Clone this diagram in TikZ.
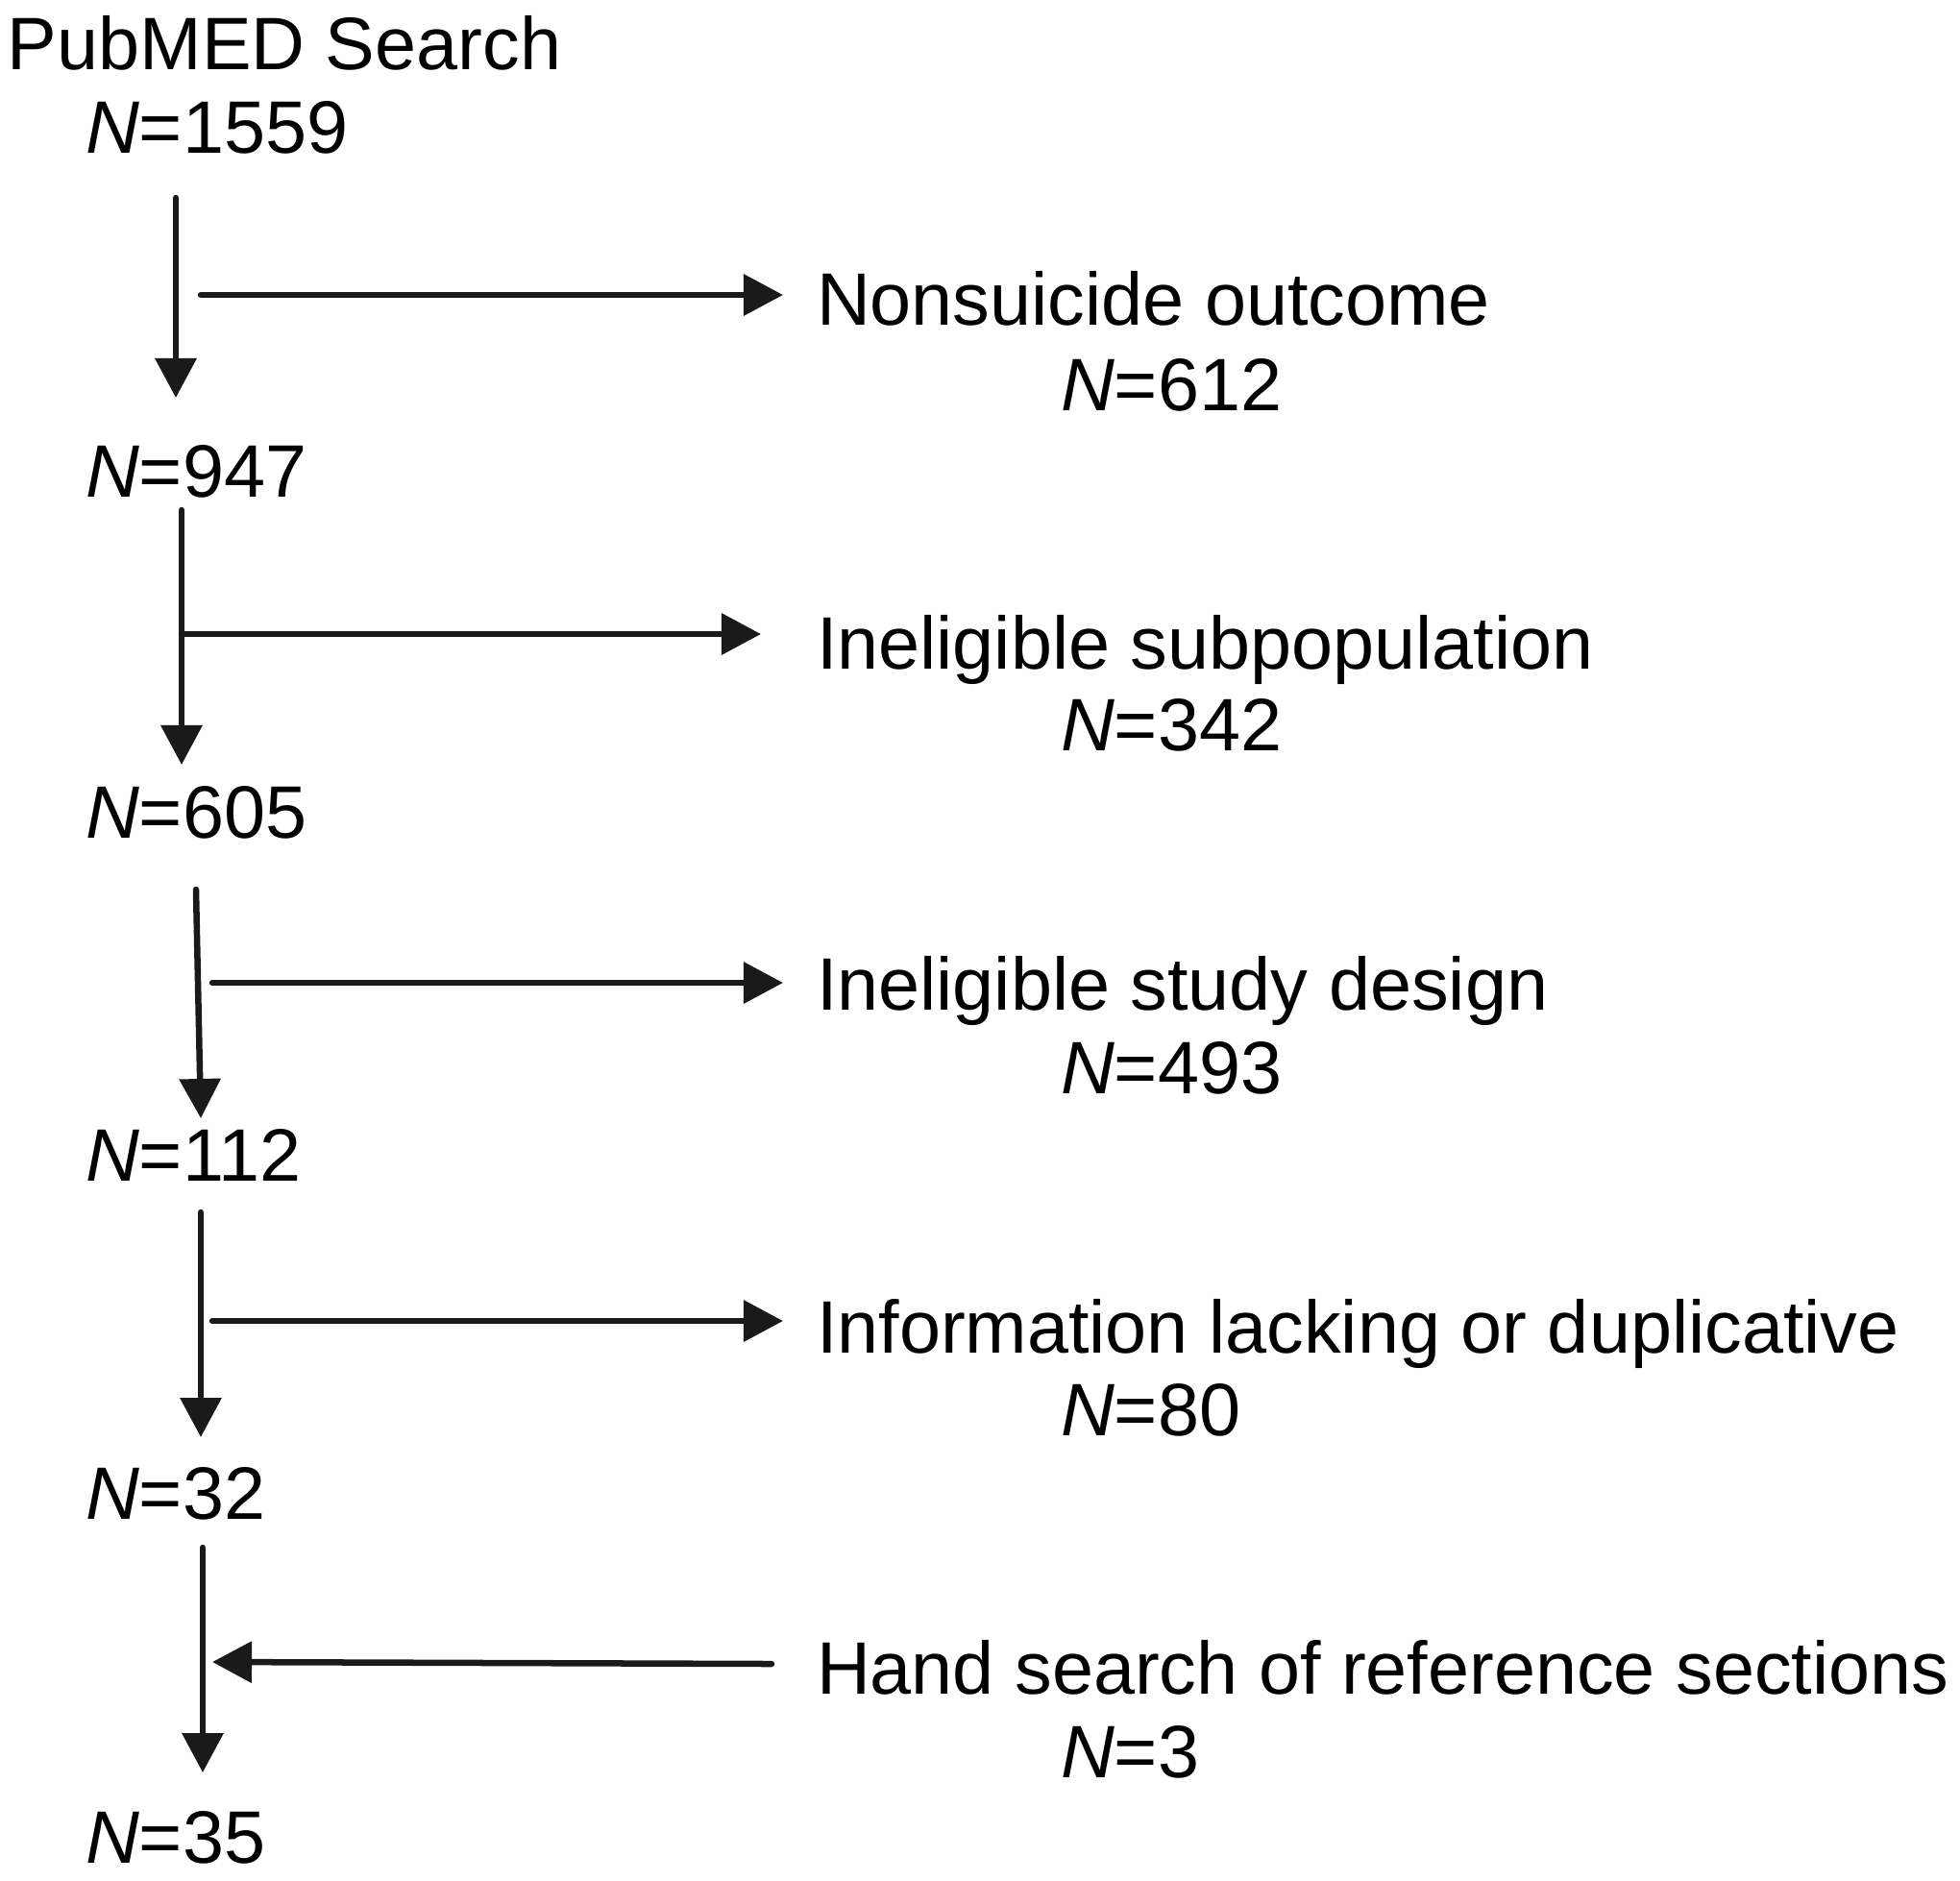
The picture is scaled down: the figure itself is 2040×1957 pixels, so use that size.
\documentclass[tikz,border=0pt]{standalone}
\usepackage{fontspec}
\setmainfont{Liberation Sans}
\usetikzlibrary{arrows.meta}
\definecolor{ink}{HTML}{1A1A1A}
\tikzset{
  lbl/.style={anchor=base west, inner sep=0pt, outer sep=0pt, font=\fontsize{22pt}{26pt}\selectfont, text=black},
  flow/.style={draw=ink, line width=1.85pt, line cap=round, -{Triangle[length=0.41cm, width=0.42cm]}, color=ink}
}
\newcommand{\NN}[1]{\textit{N}=#1}
\begin{document}
\begin{tikzpicture}[x=0.01cm, y=-0.01cm]
\useasboundingbox (0,0) rectangle (2040,1957);
% left column
\node[lbl] (pub) at (8,72) {PubMED Search};
\node[lbl] (n0) at (89,159) {\NN{1559}};
\node[lbl] (n1) at (89,517) {\NN{947}};
\node[lbl] (n2) at (89,872) {\NN{605}};
\node[lbl] (n3) at (89,1229) {\NN{112}};
\node[lbl] (n4) at (89,1581) {\NN{32}};
\node[lbl] (n5) at (89,1939) {\NN{35}};
% right column
\node[lbl] (e1) at (850,338) {Nonsuicide outcome};
\node[lbl] (e1n) at (1104,427) {\NN{612}};
\node[lbl] (e2) at (850,696) {Ineligible subpopulation};
\node[lbl] (e2n) at (1104,781) {\NN{342}};
\node[lbl] (e3) at (850,1051) {Ineligible study design};
\node[lbl] (e3n) at (1104,1138) {\NN{493}};
\node[lbl] (e4) at (850,1408) {Information lacking or duplicative};
\node[lbl] (e4n) at (1104,1494) {\NN{80}};
\node[lbl] (e5) at (850,1763) {Hand search of reference sections};
\node[lbl] (e5n) at (1104,1850) {\NN{3}};
% connector end points
\coordinate (v1a) at (183,206); \coordinate (v1b) at (183,414);
\coordinate (h1a) at (209,307); \coordinate (h1b) at (815,307);
\coordinate (v2a) at (189,531); \coordinate (v2b) at (189,796);
\coordinate (h2a) at (189,660); \coordinate (h2b) at (792,660);
\coordinate (v3a) at (204,926); \coordinate (v3b) at (209,1164);
\coordinate (h3a) at (221,1023); \coordinate (h3b) at (815,1023);
\coordinate (v4a) at (209,1262); \coordinate (v4b) at (209,1496);
\coordinate (h4a) at (221,1375); \coordinate (h4b) at (815,1375);
\coordinate (v5a) at (211,1611); \coordinate (v5b) at (211,1845);
\coordinate (h5a) at (803,1732); \coordinate (h5b) at (221,1730);
% connectors
\foreach \s in {v1,h1,v2,h2,v3,h3,v4,h4,v5,h5}
  \draw[flow] (\s a) -- (\s b);
\end{tikzpicture}
\end{document}
